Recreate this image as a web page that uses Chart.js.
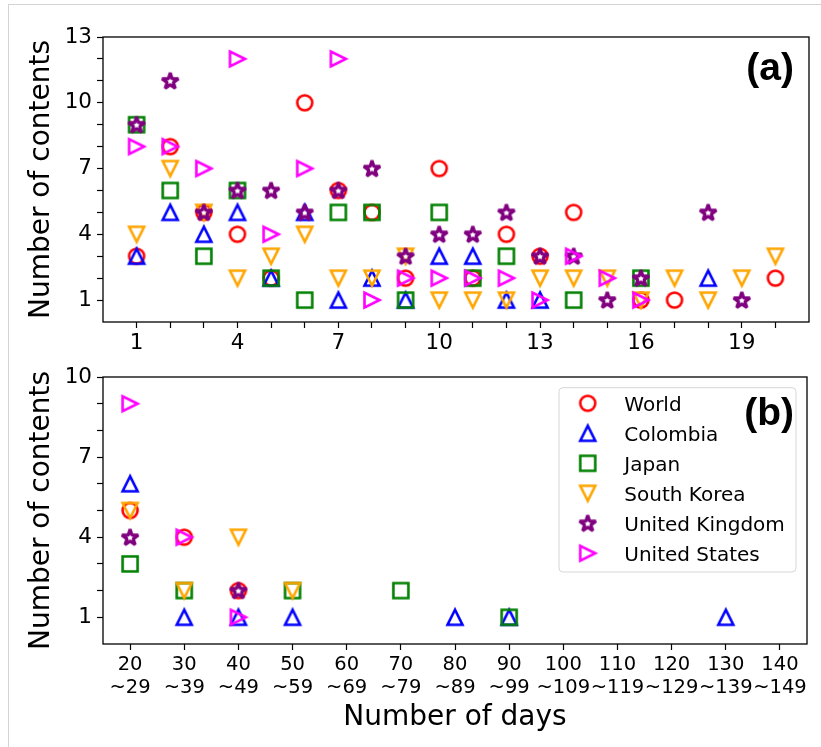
<!DOCTYPE html>
<html>
<head>
<meta charset="utf-8">
<script src="https://cdn.jsdelivr.net/npm/chart.js@4.4.1/dist/chart.umd.min.js"></script>
<style>
  html, body { margin: 0; padding: 0; background: #fff; overflow: hidden; }
  #page { position: relative; width: 821px; height: 747px; overflow: hidden; }
  #frame { position: absolute; left: 8px; top: 4px; width: 900px; height: 900px; border: 1px solid #d4d4d4; }
  canvas { position: absolute; left: 0; }
  #panelA { top: 0; }
  #panelB { top: 350px; }
</style>
</head>
<body>
<div id="page">
  <div id="frame"></div>
  <canvas id="panelA" width="821" height="360"></canvas>
  <canvas id="panelB" width="821" height="397"></canvas>
</div>
<script>
const FONT = "'DejaVu Sans', sans-serif";

const countries = ["World", "Colombia", "Japan", "South Korea", "United Kingdom", "United States"];
const colors = ["#ff0000", "#0000ff", "#008000", "#ffa500", "#800080", "#ff00ff"];
const shapes = ["circle", "triangleUp", "square", "triangleDown", "star", "triangleRight"];

// (a) contents per number of days (1..20)
const days = [1, 2, 3, 4, 5, 6, 7, 8, 9, 10, 11, 12, 13, 14, 15, 16, 17, 18, 19, 20];
const worldA    = [3, 8, 5, 4, 2, 10, 6, 5, 2, 7, 2, 4, 3, 5, null, 1, 1, null, null, 2];
const colombiaA = [3, 5, 4, 5, 2, 5, 1, 2, 1, 3, 3, 1, 1, null, null, null, null, 2, null, null];
const japanA    = [9, 6, 3, 6, 2, 1, 5, 5, 1, 5, 2, 3, null, 1, null, 2, null, null, null, null];
const koreaA    = [4, 7, 5, 2, 3, 4, 2, 2, 3, 1, 1, 1, 2, 2, 2, 1, 2, 1, 2, 3];
const ukA       = [9, 11, 5, 6, 6, 5, 6, 7, 3, 4, 4, 5, 3, 3, 1, 2, null, 5, 1, null];
const usA       = [8, 8, 7, 12, 4, 7, 12, 1, 2, 2, 2, 2, 1, 3, 2, 1, null, null, null, null];

// (b) contents per 10-day bin
const bins = [20, 30, 40, 50, 60, 70, 80, 90, 100, 110, 120, 130, 140];
const worldB    = [5, 4, 2, null, null, null, null, null, null, null, null, null, null];
const colombiaB = [6, 1, 1, 1, null, null, 1, 1, null, null, null, 1, null];
const japanB    = [3, 2, null, 2, null, 2, null, 1, null, null, null, null, null];
const koreaB    = [5, 2, 4, 2, null, null, null, null, null, null, null, null, null];
const ukB       = [4, null, 2, null, null, null, null, null, null, null, null, null, null];
const usB       = [9, 4, 1, null, null, null, null, null, null, null, null, null, null];

// ticks
const dayTicks = days;
const dayLabels = [1, 4, 7, 10, 13, 16, 19];
const countTicksA = [1, 2, 3, 4, 5, 6, 7, 8, 9, 10, 11, 12, 13];
const countLabelsA = [1, 4, 7, 10, 13];
const countTicksB = [1, 2, 3, 4, 5, 6, 7, 8, 9, 10];
const countLabelsB = [1, 4, 7, 10];
const binLabels = bins.map((b) => [String(b), "~" + (b + 9)]);

// matplotlib-like hollow markers
function makeMarker(shape, color) {
  const size = 30;
  const c = document.createElement("canvas");
  c.width = size;
  c.height = size;
  const ctx = c.getContext("2d");
  const h = 7.5;
  ctx.translate(size / 2, size / 2);
  ctx.strokeStyle = color;
  ctx.lineWidth = 2.6;
  ctx.lineJoin = "miter";
  ctx.beginPath();
  if (shape === "circle") {
    ctx.arc(0, 0, h, 0, Math.PI * 2);
  } else if (shape === "square") {
    ctx.rect(-h, -h, 2 * h, 2 * h);
  } else if (shape === "triangleUp") {
    ctx.moveTo(0, -h); ctx.lineTo(-h, h); ctx.lineTo(h, h); ctx.closePath();
  } else if (shape === "triangleDown") {
    ctx.moveTo(0, h); ctx.lineTo(-h, -h); ctx.lineTo(h, -h); ctx.closePath();
  } else if (shape === "triangleRight") {
    ctx.moveTo(h, 0); ctx.lineTo(-h, -h); ctx.lineTo(-h, h); ctx.closePath();
  } else {
    // star: a bit bigger and bolder, like the reference
    const rs = 8.6;
    ctx.lineJoin = "bevel";
    ctx.lineWidth = 3.2;
    for (let i = 0; i < 10; i++) {
      const r = i % 2 ? rs * 0.381966 : rs;
      const a = -Math.PI / 2 + (i * Math.PI) / 5;
      if (i === 0) ctx.moveTo(r * Math.cos(a), r * Math.sin(a) + 0.6);
      else ctx.lineTo(r * Math.cos(a), r * Math.sin(a) + 0.6);
    }
    ctx.closePath();
  }
  ctx.stroke();
  return c;
}
const markerImgs = shapes.map((s, i) => makeMarker(s, colors[i]));

function points(xs, ys) {
  return xs.map((x, i) => ({ x: x, y: ys[i] })).filter((p) => p.y !== null);
}

function makeDatasets(xs, series) {
  return series.map((ys, i) => ({
    label: countries[i],
    data: points(xs, ys),
    pointStyle: markerImgs[i],
    pointRadius: 8,
    borderColor: colors[i],
    backgroundColor: "transparent",
    showLine: false,
    order: series.length - i,
  }));
}

// Frame, legend and panel tag
const panelPlugin = {
  id: "panel",
  afterDatasetsDraw(chart, args, opts) {
    const { ctx, chartArea: a } = chart;
    ctx.save();
    ctx.strokeStyle = "#000";
    ctx.lineWidth = 1.3;
    ctx.strokeRect(a.left, a.top, a.right - a.left, a.bottom - a.top);

    if (opts.legend) {
      const L = opts.legend;
      ctx.beginPath();
      ctx.roundRect(L.x, L.y, L.w, L.h, 4);
      ctx.fillStyle = "rgba(255,255,255,0.8)";
      ctx.fill();
      ctx.strokeStyle = "#d6d6d6";
      ctx.lineWidth = 1;
      ctx.stroke();
      ctx.font = "20px " + FONT;
      ctx.textAlign = "left";
      ctx.textBaseline = "alphabetic";
      ctx.fillStyle = "#000";
      chart.data.datasets.forEach((ds, i) => {
        const cy = L.firstY + i * L.step;
        const img = ds.pointStyle;
        ctx.drawImage(img, L.markX - img.width / 2, cy - img.height / 2);
        ctx.fillText(ds.label, L.textX, cy + 7.3);
      });
    }

    ctx.fillStyle = "#000";
    ctx.font = "bold 39px 'Liberation Sans', Arial, sans-serif";
    ctx.textAlign = "right";
    ctx.textBaseline = "alphabetic";
    ctx.fillText(opts.tag, opts.tagX, opts.tagY);
    ctx.restore();
  },
};

function countAxis(max, tickVals, labelVals) {
  return {
    min: 0,
    max: max,
    afterBuildTicks: (s) => { s.ticks = tickVals.map((v) => ({ value: v })); },
    afterFit: (s) => { s.width = 103; },
    grid: { drawOnChartArea: false, tickLength: 6, tickColor: "#000", tickWidth: 1.2 },
    border: { display: false },
    ticks: {
      color: "#000",
      font: { family: FONT, size: 21.5 },
      padding: 5,
      autoSkip: false,
      callback: (v) => (labelVals.includes(v) ? String(v) : ""),
    },
    title: {
      display: true,
      text: "Number of contents",
      color: "#000",
      font: { family: FONT, size: 28, lineHeight: 1 },
      padding: { top: 27.7, bottom: 0 },
    },
  };
}

const common = {
  responsive: false,
  animation: false,
  devicePixelRatio: 1,
  events: [],
};

new Chart(document.getElementById("panelA"), {
  type: "scatter",
  data: { datasets: makeDatasets(days, [worldA, colombiaA, japanA, koreaA, ukA, usA]) },
  options: {
    ...common,
    layout: { padding: { left: 0, top: 37, right: 12, bottom: 0 } },
    plugins: {
      legend: { display: false },
      tooltip: { enabled: false },
      panel: { tag: "(a)", tagX: 794, tagY: 80 },
    },
    scales: {
      x: {
        type: "linear",
        min: 0,
        max: 21,
        afterBuildTicks: (s) => { s.ticks = dayTicks.map((v) => ({ value: v })); },
        afterFit: (s) => { s.height = 38; },
        grid: { drawOnChartArea: false, tickLength: 6, tickColor: "#000", tickWidth: 1.2 },
        border: { display: false },
        ticks: {
          color: "#000",
          font: { family: FONT, size: 21.5 },
          padding: 3,
          autoSkip: false,
          maxRotation: 0,
          minRotation: 0,
          callback: (v) => (dayLabels.includes(v) ? String(v) : ""),
        },
      },
      y: countAxis(13, countTicksA, countLabelsA),
    },
  },
  plugins: [panelPlugin],
});

new Chart(document.getElementById("panelB"), {
  type: "scatter",
  data: { datasets: makeDatasets(bins, [worldB, colombiaB, japanB, koreaB, ukB, usB]) },
  options: {
    ...common,
    layout: { padding: { left: 0, top: 27, right: 14, bottom: 0 } },
    plugins: {
      legend: { display: false },
      tooltip: { enabled: false },
      panel: {
        tag: "(b)", tagX: 794, tagY: 75,
        legend: { x: 559, y: 37.7, w: 237, h: 184.3, markX: 587.7, textX: 624.3, firstY: 53.3, step: 30 },
      },
    },
    scales: {
      x: {
        type: "linear",
        min: 15,
        max: 145,
        afterBuildTicks: (s) => { s.ticks = bins.map((v) => ({ value: v })); },
        afterFit: (s) => { s.height = 103; },
        grid: { drawOnChartArea: false, tickLength: 6, tickColor: "#000", tickWidth: 1.2 },
        border: { display: false },
        ticks: {
          color: "#000",
          font: { family: FONT, size: 19.5 },
          padding: 3,
          autoSkip: false,
          maxRotation: 0,
          minRotation: 0,
          callback: (v) => binLabels[bins.indexOf(v)],
        },
        title: {
          display: true,
          text: "Number of days",
          color: "#000",
          font: { family: FONT, size: 28, lineHeight: 1 },
          padding: { top: 0, bottom: 14.8 },
        },
      },
      y: countAxis(10, countTicksB, countLabelsB),
    },
  },
  plugins: [panelPlugin],
});
</script>
</body>
</html>
